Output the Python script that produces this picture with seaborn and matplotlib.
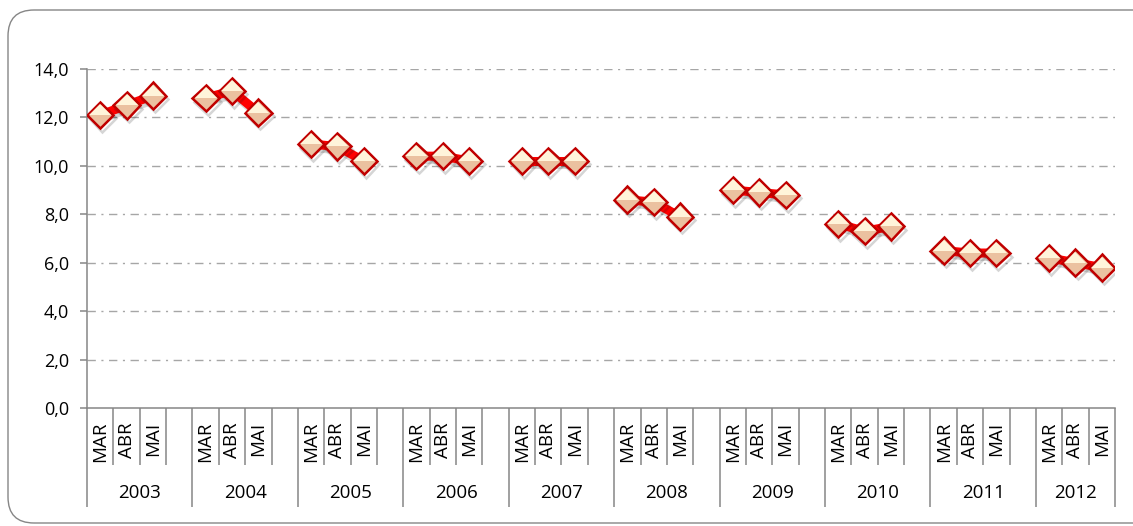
import numpy as np
import pandas as pd
import matplotlib
matplotlib.use("Agg")
import matplotlib.pyplot as plt
import matplotlib.transforms as mtransforms
import matplotlib.patheffects as pe
from matplotlib.patches import FancyBboxPatch
import seaborn as sns

# ------------------------------------------------------------
# data
# ------------------------------------------------------------
years = ["2003", "2004", "2005", "2006", "2007", "2008", "2009", "2010", "2011", "2012"]
months = ["MAR", "ABR", "MAI"]
values = [
    [12.1, 12.5, 12.9],
    [12.8, 13.1, 12.2],
    [10.9, 10.8, 10.2],
    [10.4, 10.4, 10.2],
    [10.2, 10.2, 10.2],
    [8.6, 8.5, 7.9],
    [9.0, 8.9, 8.8],
    [7.6, 7.3, 7.5],
    [6.5, 6.4, 6.4],
    [6.2, 6.0, 5.8],
]
y_ticks = [0, 2, 4, 6, 8, 10, 12, 14]

# one empty slot after each year except the last
slots = len(months) + 1
rows = []
for i, yr in enumerate(years):
    for j, m in enumerate(months):
        rows.append({"year": yr, "month": m, "pos": i * slots + j, "value": values[i][j]})
df = pd.DataFrame(rows)

sns.set_theme(style="white")
plt.rcParams["font.family"] = ["Open Sans", "DejaVu Sans"]
plt.rcParams["lines.scale_dashes"] = False

GRAY = "#868686"
fig = plt.figure(figsize=(11.33, 5.26), dpi=100)
ax = fig.add_axes([87 / 1133, 1 - 408 / 526, (1115 - 87) / 1133, (408 - 69) / 526])

# rounded outer frame (runs past the right edge)
frame = FancyBboxPatch((0.08, 0.03), 11.55, 5.13,
                       boxstyle="round,pad=0,rounding_size=0.26",
                       transform=fig.dpi_scale_trans, facecolor="none",
                       edgecolor=GRAY, linewidth=1.0)
fig.patches.append(frame)

# horizontal dash-dot grid
for v in y_ticks[1:]:
    ax.axhline(v, color="#A6A6A6", linewidth=1.0, linestyle=(0, (6, 4, 1.5, 4)), zorder=1)

shadow = [pe.SimpleLineShadow(offset=(1.5, -2.5), alpha=0.18), pe.Normal()]

# lines + full markers (lower, darker shade)
sns.lineplot(data=df, x="pos", y="value", units="year", estimator=None,
             color="#FF0000", linewidth=6.5, marker="D", markersize=13.5,
             markerfacecolor="#EBC1A0", markeredgecolor="#C00000", markeredgewidth=1.8,
             path_effects=shadow, legend=False, ax=ax, zorder=3)
# lighter upper half of each marker
sns.lineplot(data=df, x="pos", y="value", units="year", estimator=None,
             linestyle="", marker="D", markersize=11.6, fillstyle="top",
             markerfacecolor="#FFF4DA", markerfacecoloralt="none",
             markeredgecolor="none", markeredgewidth=0,
             legend=False, ax=ax, zorder=4)

n_slots = len(years) * slots - 1
ax.set_xlim(-0.5, n_slots - 0.5)
ax.set_ylim(0, 14)
ax.set_yticks(y_ticks)
ax.set_yticklabels([f"{v:.1f}".replace(".", ",") for v in y_ticks], fontsize=13)
ax.set_xlabel("")
ax.set_ylabel("")

# x ticks: year boundaries long, slot boundaries short
year_edges = [i * slots - 0.5 for i in range(len(years))] + [n_slots - 0.5]
inner_edges = [e + k for e in year_edges[:-1] for k in range(1, slots)]
inner_edges = [e for e in inner_edges if e < n_slots - 0.5]
ax.set_xticks(year_edges)
ax.set_xticks(inner_edges, minor=True)
ax.set_xticklabels([])
ax.tick_params(axis="x", which="both", bottom=True)
ax.tick_params(axis="x", which="major", length=71, width=1.1, color=GRAY, direction="out")
ax.tick_params(axis="x", which="minor", length=41, width=1.1, color=GRAY, direction="out")
ax.tick_params(axis="y", which="major", left=True, length=5, width=1.1, color=GRAY,
               direction="out", pad=8, labelcolor="black")

for side in ["top", "right"]:
    ax.spines[side].set_visible(False)
for side in ["left", "bottom"]:
    ax.spines[side].set_color(GRAY)
    ax.spines[side].set_linewidth(1.1)

# month labels and year labels
base = mtransforms.blended_transform_factory(ax.transData, ax.transAxes)
month_tr = mtransforms.offset_copy(base, fig=fig, y=-10, units="points")
year_tr = mtransforms.offset_copy(base, fig=fig, y=-61, units="points")
for _, r in df.iterrows():
    ax.text(r["pos"], 0, r["month"], transform=month_tr, rotation=90,
            ha="center", va="top", fontsize=13.5, color="black")
for i, yr in enumerate(years):
    ax.text((year_edges[i] + year_edges[i + 1]) / 2, 0, yr, transform=year_tr,
            ha="center", va="center", fontsize=13.5, color="black")

fig.savefig("out.png", dpi=100)
